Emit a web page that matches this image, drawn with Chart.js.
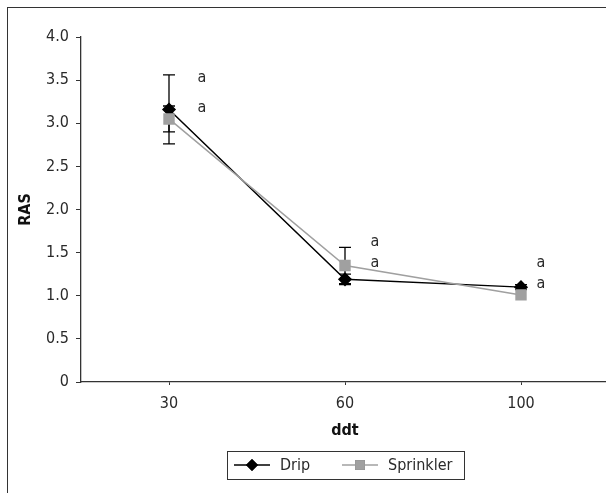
<!DOCTYPE html>
<html>
<head>
<meta charset="utf-8">
<script src="https://cdn.jsdelivr.net/npm/chart.js@4"></script>
<style>
  html, body { margin: 0; padding: 0; background: #fff; overflow: hidden; }
  #wrap { position: relative; width: 606px; height: 493px; overflow: hidden; }
  #frame { position: absolute; left: 7px; top: 7px; width: 700px; height: 600px; border: 1px solid #333; }
  #box { position: absolute; left: 0; top: 0; width: 620px; height: 493px; }
</style>
</head>
<body>
<div id="wrap">
  <div id="frame"></div>
  <div id="box"><canvas id="chart" width="620" height="493"></canvas></div>
</div>
<script>
const FONT = "'Liberation Sans Narrow', 'DejaVu Sans Condensed', 'Liberation Sans', sans-serif";

const categories = ["30", "60", "100"];
const dripValues = [3.16, 1.19, 1.10];
const dripErrors = [0.40, 0.06, 0.03];
const sprinklerValues = [3.05, 1.35, 1.01];
const sprinklerErrors = [0.15, 0.21, 0];
// letters shown beside each group: upper one for Sprinkler, lower for Drip
const letterTop = ["a", "a", "a"];
const letterTopY = [3.53, 1.63, 1.38];
const letterBottom = ["a", "a", "a"];
const letterBottomY = [3.18, 1.38, 1.14];
const yTicks = [0, 0.5, 1.0, 1.5, 2.0, 2.5, 3.0, 3.5, 4.0];

const DARK = "#000000";
const GRAY = "#a0a0a0";
const AXIS = "#333333";
const TEXT = "#2a2a2a";

// error bars go under the markers
const errorBars = {
  id: "errorBars",
  beforeDatasetsDraw(chart) {
    const { ctx, scales: { x, y } } = chart;
    const sets = [
      { vals: sprinklerValues, errs: sprinklerErrors },
      { vals: dripValues, errs: dripErrors },
    ];
    ctx.save();
    ctx.strokeStyle = "#000";
    ctx.lineWidth = 1.3;
    sets.forEach((s) => {
      s.vals.forEach((v, i) => {
        if (!s.errs[i]) return;
        const px = x.getPixelForValue(i);
        const top = y.getPixelForValue(v + s.errs[i]);
        const bot = y.getPixelForValue(v - s.errs[i]);
        ctx.beginPath();
        ctx.moveTo(px, top); ctx.lineTo(px, bot);
        ctx.moveTo(px - 6, top); ctx.lineTo(px + 6, top);
        ctx.moveTo(px - 6, bot); ctx.lineTo(px + 6, bot);
        ctx.stroke();
      });
    });
    ctx.restore();
  },
};

const letters = {
  id: "letters",
  afterDraw(chart, args, opts) {
    const { ctx, scales: { x, y } } = chart;
    ctx.save();
    ctx.font = "16px " + FONT;
    ctx.fillStyle = TEXT;
    ctx.textAlign = "center";
    ctx.textBaseline = "middle";
    categories.forEach((c, i) => {
      const px = x.getPixelForValue(i) + opts.offsets[i];
      ctx.fillText(letterTop[i], px, y.getPixelForValue(letterTopY[i]));
      ctx.fillText(letterBottom[i], px, y.getPixelForValue(letterBottomY[i]));
    });
    ctx.restore();
  },
};

const boxLegend = {
  id: "boxLegend",
  afterDraw(chart) {
    const { ctx } = chart;
    const items = chart.data.datasets;
    const left = 227, top = 451, w = 237, h = 28;
    const cy = top + h / 2;
    ctx.save();
    ctx.strokeStyle = AXIS;
    ctx.lineWidth = 1;
    ctx.strokeRect(left + 0.5, top + 0.5, w, h);
    ctx.font = "16px " + FONT;
    ctx.textBaseline = "middle";
    ctx.textAlign = "left";
    const starts = [left + 7, left + 115];
    items.forEach((ds, i) => {
      const sx = starts[i];
      ctx.strokeStyle = ds.borderColor;
      ctx.lineWidth = 1.5;
      ctx.beginPath();
      ctx.moveTo(sx, cy); ctx.lineTo(sx + 36, cy);
      ctx.stroke();
      Chart.helpers.drawPoint(ctx, {
        pointStyle: ds.pointStyle,
        radius: ds.pointRadius,
        borderWidth: 0,
      }, sx + 18, cy);
      ctx.fillStyle = ds.pointBackgroundColor;
      ctx.fill();
      ctx.fillStyle = TEXT;
      ctx.fillText(ds.label, sx + 46, cy + 1);
    });
    ctx.restore();
  },
};

new Chart(document.getElementById("chart"), {
  type: "line",
  data: {
    labels: categories,
    datasets: [
      {
        label: "Drip",
        data: dripValues,
        borderColor: DARK,
        backgroundColor: DARK,
        pointBackgroundColor: DARK,
        pointBorderColor: DARK,
        pointStyle: "rectRot",
        pointRadius: 6,
        borderWidth: 1.5,
        order: 2,
      },
      {
        label: "Sprinkler",
        data: sprinklerValues,
        borderColor: GRAY,
        backgroundColor: GRAY,
        pointBackgroundColor: GRAY,
        pointBorderColor: GRAY,
        pointStyle: "rect",
        pointRadius: 7,
        borderWidth: 1.5,
        order: 1,
      },
    ],
  },
  options: {
    responsive: false,
    animation: false,
    devicePixelRatio: 1,
    layout: { padding: { top: 37, left: 0, right: 11, bottom: 51 } },
    plugins: {
      legend: { display: false },
      tooltip: { enabled: false },
      letters: { offsets: [33, 30, 20] },
    },
    scales: {
      x: {
        offset: true,
        afterFit: (s) => { s.height = 60; },
        grid: { drawOnChartArea: false, drawTicks: true, tickLength: 3, offset: false, color: AXIS },
        border: { color: AXIS, width: 1.3 },
        ticks: { color: TEXT, padding: 9, font: { family: FONT, size: 16 } },
        title: { display: true, text: "ddt", color: "#111", padding: { top: 0, bottom: 2 }, font: { family: FONT, size: 16, weight: "bold" } },
      },
      y: {
        min: 0,
        max: 4,
        afterFit: (s) => { s.width = 81; },
        afterBuildTicks: (s) => { s.ticks = yTicks.map((v) => ({ value: v })); },
        grid: { drawOnChartArea: false, drawTicks: true, tickLength: 5, color: AXIS },
        border: { color: AXIS, width: 1.3 },
        ticks: {
          color: TEXT,
          padding: 7,
          font: { family: FONT, size: 16 },
          callback: (v) => (v === 0 ? "0" : v.toFixed(1)),
        },
        title: { display: true, text: "RAS", color: "#111", padding: { top: 16, bottom: 0 }, font: { family: FONT, size: 16, weight: "bold" } },
      },
    },
  },
  plugins: [errorBars, letters, boxLegend],
});
</script>
</body>
</html>
